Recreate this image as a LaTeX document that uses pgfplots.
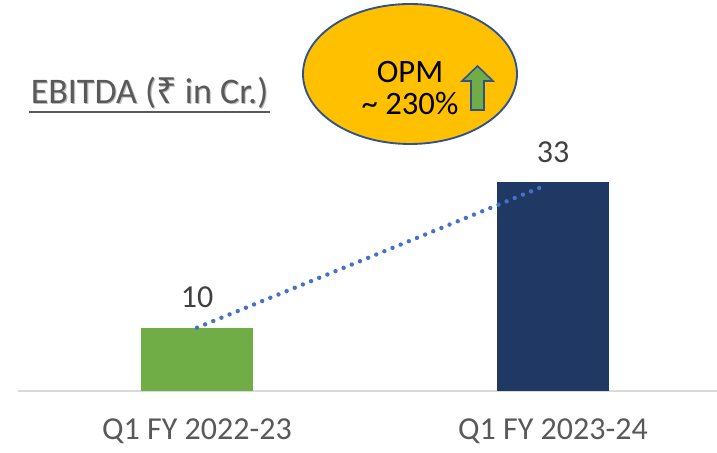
\documentclass[border=0pt]{standalone}
\usepackage{pgfplots}
\pgfplotsset{compat=1.18}
\usepackage{fontspec}
\setmainfont{Carlito}
\newfontfamily\rupeefont{Noto Sans}
\definecolor{BarGreen}{RGB}{112,173,71}
\definecolor{BarNavy}{RGB}{32,56,100}
\definecolor{TrendBlue}{RGB}{68,114,196}
\definecolor{OvalYellow}{RGB}{255,192,0}
\definecolor{OvalEdge}{RGB}{47,82,143}
\definecolor{TextGray}{RGB}{89,89,89}
\definecolor{LabelGray}{RGB}{64,64,64}
\definecolor{BaseGray}{RGB}{217,217,217}

\begin{document}
\begin{tikzpicture}
\useasboundingbox (0,0) rectangle (537.75pt,339.75pt);
\begin{axis}[at={(13.5pt,46.5pt)}, anchor=south west, scale only axis,
	x=267pt, y=4.7475pt, xmin=-0.5028, xmax=1.4607, ymin=0, ymax=50,
	axis x line=bottom, axis y line=none,
	x axis line style={-, draw=BaseGray, line width=1.2pt},
	xtick={0,1}, xticklabels={Q1 FY 2022-23, Q1 FY 2023-24},
	major tick length=0pt, ytick=\empty,
	/pgf/number format/assume math mode=true,
	xticklabel style={font=\fontsize{24}{28}\selectfont, text=TextGray,
		anchor=center, yshift=-30.5pt},
	ybar, bar width=84pt, bar shift=0pt,
	nodes near coords,
	nodes near coords style={font=\fontsize{24}{28}\selectfont,
		text=LabelGray, anchor=center, yshift=22.5pt},
	clip=false]
	\addplot[fill=BarGreen, draw=none] coordinates {(0,10)};
	\addplot[fill=BarNavy, draw=none] coordinates {(1,33)};
	\addplot[sharp plot, nodes near coords=, draw=TrendBlue, line width=3.3pt,
		line cap=round, dash pattern=on 0pt off 6.6pt]
		coordinates {(0,10) (0.98,32.5)};
\end{axis}
\begin{scope}[x=0.75pt, y=0.75pt]
	% title
	\node[inner sep=0, text=TextGray!40, font=\fontsize{27}{32}\selectfont]
		at (150.7,359.3) {EBITDA ({\rupeefont ₹} in Cr.)};
	\node[inner sep=0, text=TextGray, font=\fontsize{27}{32}\selectfont]
		(t) at (149.5,360) {EBITDA ({\rupeefont ₹} in Cr.)};
	\draw[TextGray, line width=1.5pt] (29,341) -- (270,341);
	% OPM oval
	\draw[fill=OvalYellow, draw=OvalEdge, line width=1.4pt]
		(410,379) ellipse [x radius=107, y radius=70];
	\node[font=\fontsize{24.5}{28}\selectfont, text=black] at (410,381) {OPM};
	\node[font=\fontsize{24.5}{28}\selectfont, text=black] at (410,350) {\textasciitilde{} 230\%};
	\draw[fill=BarGreen, draw=OvalEdge, line width=1.2pt]
		(471,343) -- (484,343) -- (484,372) -- (493,372) -- (477.5,387)
		-- (462,372) -- (471,372) -- cycle;
\end{scope}
\end{tikzpicture}
\end{document}
